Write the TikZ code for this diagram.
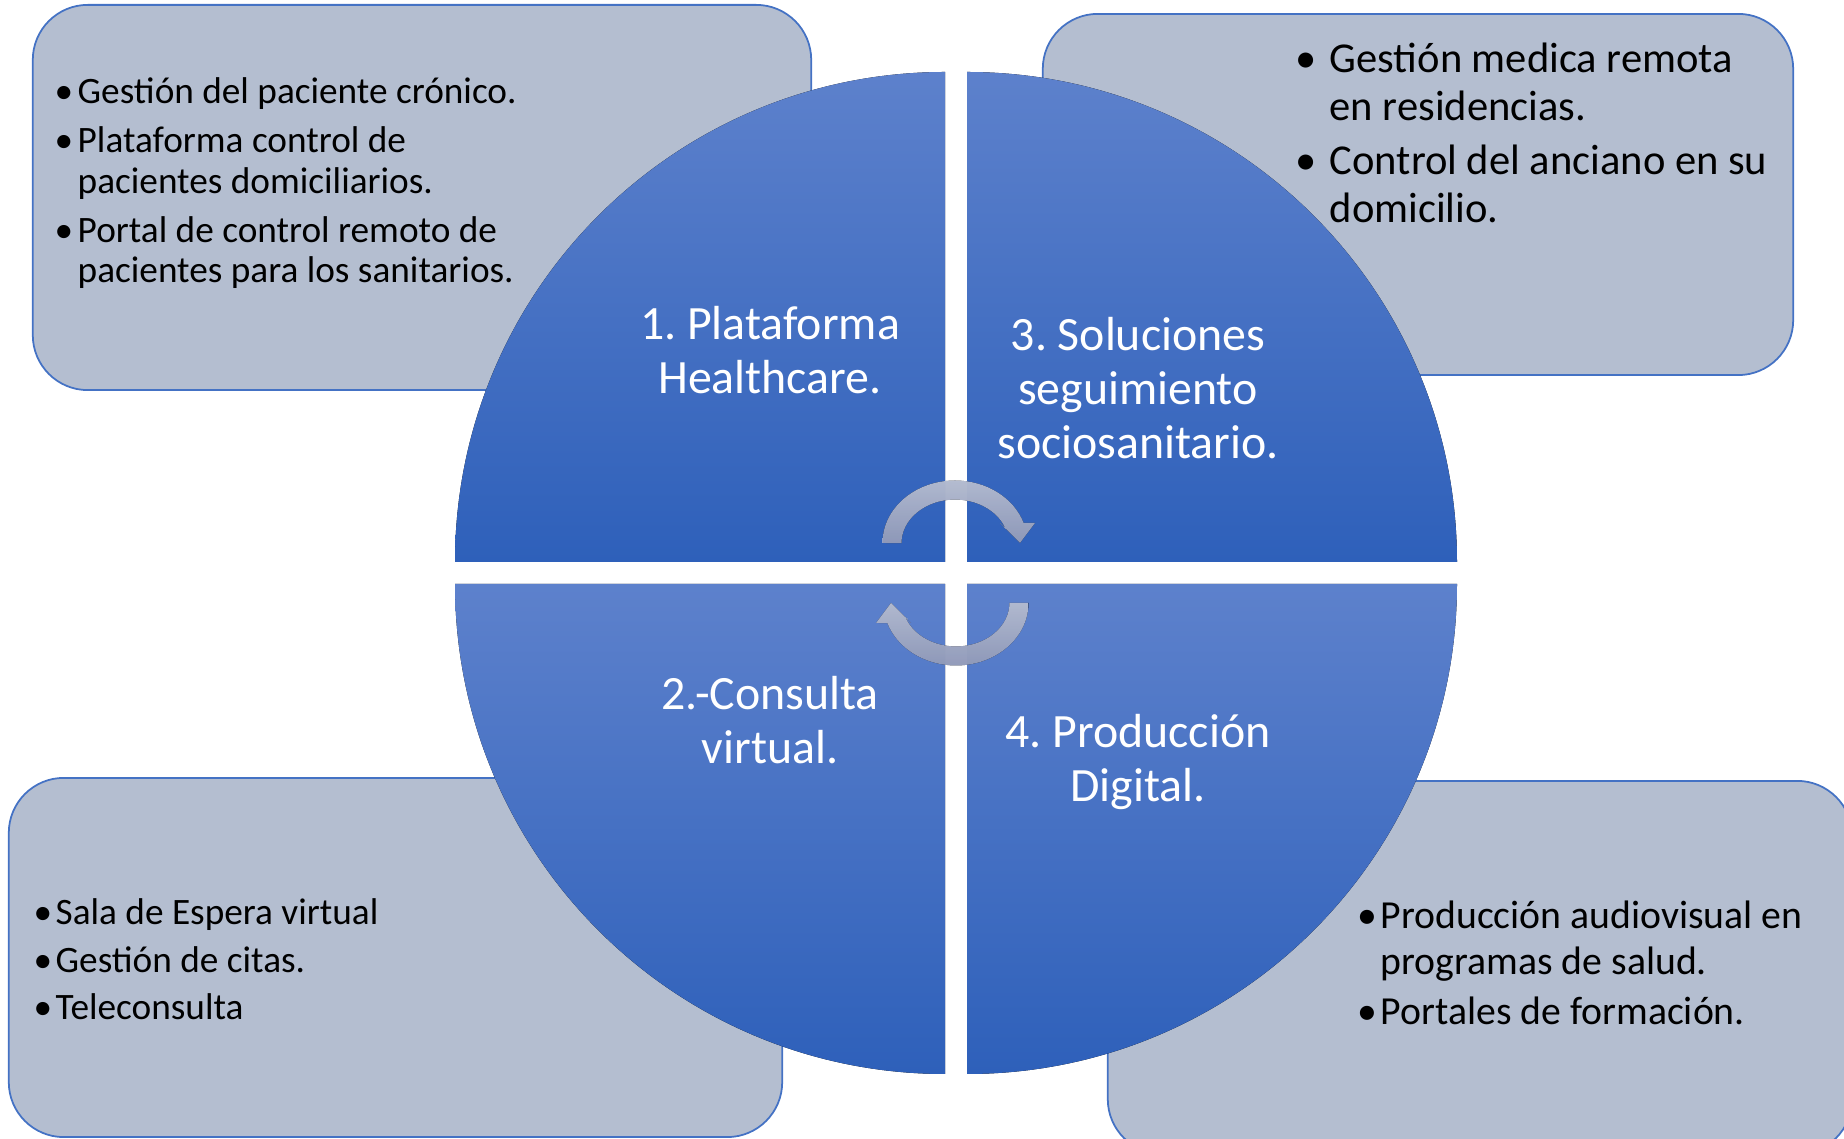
\documentclass[tikz,border=0pt]{standalone}
\usepackage{fontspec}
\setmainfont{Carlito}
\usepackage{tikz}

\definecolor{boxfill}{RGB}{180,190,208}
\definecolor{boxline}{RGB}{68,114,196}
\definecolor{quadtop}{RGB}{93,129,204}
\definecolor{quadbot}{RGB}{46,96,186}
\definecolor{cyctop}{RGB}{205,214,238}
\definecolor{cycbot}{RGB}{165,176,212}

\newcommand{\bul}[1]{\makebox[#1][l]{\textbullet}}

\begin{document}
\frenchspacing
\begin{tikzpicture}[x=0.01cm, y=0.01cm,
	box/.style={draw=boxline, fill=boxfill, line width=0.5pt, rounded corners=0.55cm, rectangle, inner sep=0pt},
	quad/.style={top color=quadtop, bottom color=quadbot, draw=none},
	qlabel/.style={text=white, align=center, font=\fontsize{13.6}{15.4}\selectfont},
	blist/.style={anchor=west, inner sep=0pt, text=black},
	cyc/.style={top color=cyctop, bottom color=cycbot, fill opacity=0.85, draw=none}]
	\useasboundingbox (0,0) rectangle (1844,1139);
	\clip (0,0) rectangle (1844,1139);
	
	\coordinate (TL) at (945,577);
	\coordinate (TR) at (967,577);
	\coordinate (BL) at (945,555);
	\coordinate (BR) at (967,555);
	
	% boxes behind the circle
	\node[box, minimum width=7.78cm, minimum height=3.85cm] (boxA) at (422,941.5) {};
	\node[box, minimum width=7.50cm, minimum height=3.61cm] (boxC) at (1418,944.5) {};
	\node[box, minimum width=7.73cm, minimum height=3.59cm] (boxB) at (395.5,181.5) {};
	\node[box, minimum width=7.44cm, minimum height=3.73cm] (boxD) at (1480,171.5) {};
	
	% four quarters
	\fill[quad] (TL) -- ++(0,490) arc[start angle=90, end angle=180, radius=490] -- cycle;
	\fill[quad] (TR) -- ++(490,0) arc[start angle=0, end angle=90, radius=490] -- cycle;
	\fill[quad] (BL) -- ++(-490,0) arc[start angle=180, end angle=270, radius=490] -- cycle;
	\fill[quad] (BR) -- ++(0,-490) arc[start angle=270, end angle=360, radius=490] -- cycle;
	
	\node[qlabel] (labA) at (770,789) {1. Plataforma\\Healthcare.};
	\node[qlabel] (labC) at (1138,751) {3. Soluciones\\seguimiento\\sociosanitario.};
	\node[qlabel] (labB) at (770,419) {2.-Consulta\\virtual.};
	\node[qlabel] (labD) at (1138,377) {4. Producción\\Digital.};
	
	% circular arrows
	\fill[cyc] (882.5,596) arc[start angle=180, end angle=18.7, x radius=72.5, y radius=62.5]
		-- (1035,616) -- (1020,596) -- (1000,616) -- (1005.7,609.9)
		arc[start angle=18.7, end angle=180, x radius=53.5, y radius=43.5] -- cycle;
	\fill[cyc] (1028.5,536) arc[start angle=0, end angle=-161.3, x radius=72.5, y radius=62.5]
		-- (876,516) -- (891,536) -- (911,516) -- (905.3,522.1)
		arc[start angle=-161.3, end angle=0, x radius=53.5, y radius=43.5] -- cycle;
	
	\node[blist, font=\fontsize{10.6}{11.4}\selectfont] (txtA) at (54,954) {%
		\begin{tabular}{@{}l@{}l@{}}
		\bul{0.23cm} & Gestión del paciente crónico.\\[2.6pt]
		\bul{0.23cm} & Plataforma control de\\
		 & pacientes domiciliarios.\\[2.6pt]
		\bul{0.23cm} & Portal de control remoto de\\
		 & pacientes para los sanitarios.
		\end{tabular}};
	\node[blist, font=\fontsize{12.1}{13.6}\selectfont] (txtC) at (1295,1001) {%
		\begin{tabular}{@{}l@{}l@{}}
		\bul{0.34cm} & Gestión medica remota\\
		 & en residencias.\\[1.7pt]
		\bul{0.34cm} & Control del anciano en su\\
		 & domicilio.
		\end{tabular}};
	\node[blist, font=\fontsize{10.6}{11.4}\selectfont] (txtB) at (33,175) {%
		\begin{tabular}{@{}l@{}l@{}}
		\bul{0.22cm} & Sala de Espera virtual\\[2.2pt]
		\bul{0.22cm} & Gestión de citas.\\[2.2pt]
		\bul{0.22cm} & Teleconsulta
		\end{tabular}};
	\node[blist, font=\fontsize{11.3}{13.1}\selectfont] (txtD) at (1357,172) {%
		\begin{tabular}{@{}l@{}l@{}}
		\bul{0.23cm} & Producción audiovisual en\\
		 & programas de salud.\\[1.1pt]
		\bul{0.23cm} & Portales de formación.
		\end{tabular}};
\end{tikzpicture}
\end{document}
